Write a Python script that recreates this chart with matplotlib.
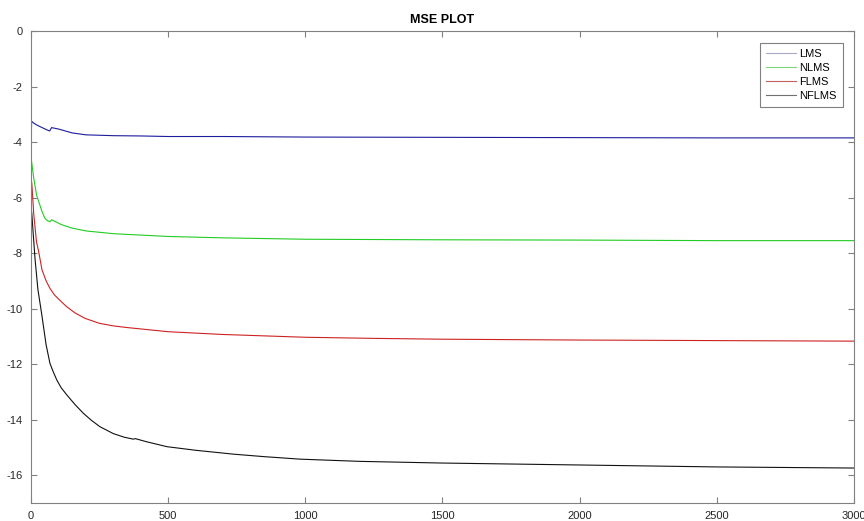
import matplotlib
matplotlib.use('Agg')
import matplotlib.pyplot as plt
from matplotlib.lines import Line2D

plt.rcParams['font.family'] = ['Liberation Sans', 'DejaVu Sans']
plt.rcParams['axes.unicode_minus'] = False

# MSE curves (dB)
lms_x = [0, 1, 2, 10, 20, 30, 45, 60, 68, 75, 100, 125, 150, 200, 300, 400, 500, 700, 1000, 1500, 2000, 2500, 3000]
lms_y = [-11.7, -4.0, -3.25, -3.32, -3.38, -3.43, -3.5, -3.57, -3.6, -3.48, -3.53, -3.6, -3.67, -3.74, -3.77, -3.78, -3.8, -3.8, -3.82, -3.83, -3.84, -3.85, -3.85]

nlms_x = [0, 2, 6, 10, 15, 20, 30, 40, 51, 60, 69, 75, 90, 110, 150, 200, 250, 300, 400, 500, 700, 1000, 1500, 2000, 2500, 3000]
nlms_y = [-4.5, -4.7, -5.0, -5.3, -5.6, -5.9, -6.2, -6.5, -6.75, -6.83, -6.87, -6.8, -6.87, -6.97, -7.1, -7.2, -7.25, -7.3, -7.35, -7.4, -7.45, -7.5, -7.52, -7.53, -7.55, -7.55]

flms_x = [0, 3, 10, 20, 27, 40, 55, 69, 85, 100, 130, 160, 197, 250, 300, 350, 400, 500, 600, 700, 850, 1000, 1250, 1500, 2000, 2500, 3000]
flms_y = [-5.3, -5.5, -6.6, -7.6, -7.9, -8.6, -9.0, -9.27, -9.5, -9.65, -9.93, -10.15, -10.35, -10.53, -10.62, -10.68, -10.73, -10.83, -10.88, -10.93, -10.98, -11.03, -11.07, -11.1, -11.13, -11.15, -11.17]

nflms_x = [0, 3, 8, 15, 25, 39, 55, 69, 80, 94, 110, 130, 160, 191, 220, 251, 300, 340, 373, 380, 420, 495, 600, 738, 850, 981, 1200, 1500, 2000, 2500, 3000]
nflms_y = [-6.3, -6.6, -7.3, -8.25, -9.3, -10.2, -11.3, -11.97, -12.25, -12.57, -12.85, -13.1, -13.45, -13.77, -14.02, -14.25, -14.5, -14.63, -14.7, -14.68, -14.79, -14.97, -15.1, -15.24, -15.33, -15.42, -15.5, -15.56, -15.63, -15.7, -15.74]

labels = ['LMS', 'NLMS', 'FLMS', 'NFLMS']
colors = ['#1c1c9c', '#22cc22', '#cc2222', '#111111']
legend_colors = ['#a8a8c8', '#7ad87a', '#c86060', '#707070']

fig = plt.figure(figsize=(8.64, 5.21), dpi=100)
ax = fig.add_axes([0.0359, 0.0345, 0.9525, 0.906])

series = [(lms_x, lms_y), (nlms_x, nlms_y), (flms_x, flms_y), (nflms_x, nflms_y)]
for (xs, ys), c in zip(series, colors):
    ax.plot(xs, ys, color=c, linewidth=0.8)

ax.set_xlim(0, 3000)
ax.set_ylim(-17, 0)
ax.set_xticks(range(0, 3001, 500))
ax.set_yticks(range(-16, 1, 2))
ax.tick_params(direction='in', top=True, right=True, length=4, width=0.8,
               colors='#808080', labelcolor='#262626', labelsize=8, pad=6)
for s in ax.spines.values():
    s.set_color('#808080')
    s.set_linewidth(0.8)

ax.set_title('MSE PLOT', fontsize=9, fontweight='bold', pad=6)

handles = [Line2D([0], [0], color=c, linewidth=0.8) for c in legend_colors]
leg = ax.legend(handles, labels, loc='upper right', bbox_to_anchor=(0.9866, 0.9746),
                borderaxespad=0, fancybox=False, framealpha=1, edgecolor='#808080',
                fontsize=8, handlelength=2.7, handletextpad=0.3, labelspacing=0.35,
                borderpad=0.55)
leg.get_frame().set_linewidth(0.8)

plt.savefig('out.png', dpi=100)
